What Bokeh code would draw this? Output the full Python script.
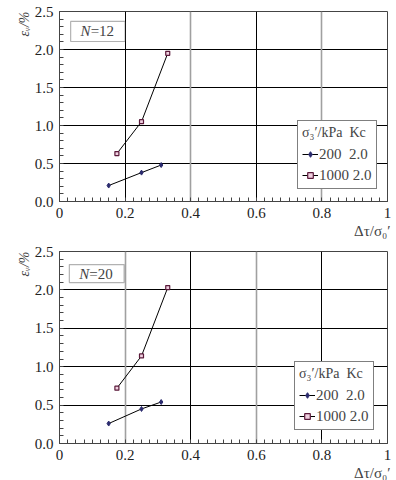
from bokeh.plotting import figure
from bokeh.models import (FixedTicker, NumeralTickFormatter, Grid, Label, BoxAnnotation,
                          Legend, LegendItem, Title)
from bokeh.layouts import column
from bokeh.embed import file_html
from bokeh.resources import INLINE

# ---- data ----
x_200 = [0.15, 0.25, 0.31]
x_1000 = [0.175, 0.25, 0.33]
n12_200 = [0.21, 0.38, 0.48]
n12_1000 = [0.63, 1.05, 1.95]
n20_200 = [0.26, 0.45, 0.54]
n20_1000 = [0.72, 1.14, 2.03]
x_ticks = [0, 0.2, 0.4, 0.6, 0.8, 1.0]
y_ticks = [0, 0.5, 1.0, 1.5, 2.0, 2.5]
panel_titles = ["12", "20"]
legend_labels = ["200  2.0", "1000 2.0"]
legend_title = "σ₃′/kPa  Kc"

FONT = "Liberation Serif"
GRAY = "#a0a0a0"


def make_panel(height, b_top, b_bottom, n_label, y200, y1000, black_x, gray_x, leg_loc, nbox):
    p = figure(width=396, height=height, x_range=(0, 1), y_range=(0, 2.5),
               output_backend="svg", toolbar_location=None,
               min_border_left=59, min_border_right=9,
               min_border_top=b_top, min_border_bottom=b_bottom)
    p.outline_line_color = "#444444"
    for ax in (p.xaxis[0], p.yaxis[0]):
        ax.axis_line_color = "#444444"
        ax.major_tick_in = 0
        ax.major_tick_out = 0
        ax.minor_tick_in = 4
        ax.minor_tick_out = 0
        ax.minor_tick_line_color = "#444444"
        ax.major_label_text_font = FONT
        ax.major_label_text_font_size = "15px"
        ax.major_label_text_color = "#222222"
    p.xaxis.ticker = FixedTicker(ticks=x_ticks, minor_ticks=[i * 0.025 for i in range(41)])
    p.yaxis.ticker = FixedTicker(ticks=y_ticks, minor_ticks=[i * 0.1 for i in range(26)])
    p.xaxis.major_label_overrides = {0: "0", 1: "1"}
    p.yaxis.formatter = NumeralTickFormatter(format="0.0")
    p.xaxis.major_label_standoff = 6
    p.yaxis.major_label_standoff = 6

    p.xgrid.visible = False
    p.ygrid.ticker = FixedTicker(ticks=[0.5, 1.0, 1.5, 2.0])
    p.ygrid.grid_line_color = "black"
    p.add_layout(Grid(dimension=0, ticker=FixedTicker(ticks=black_x),
                      grid_line_color="black"))
    p.add_layout(Grid(dimension=0, ticker=FixedTicker(ticks=gray_x),
                      grid_line_color=GRAY, grid_line_width=1.6))

    l1 = p.line(x_200, y200, line_color="black", line_width=1)
    m1 = p.scatter(x_200, y200, marker="diamond", size=5, fill_color="#2b2b6e",
                   line_color="#2b2b6e")
    l2 = p.line(x_1000, y1000, line_color="black", line_width=1)
    m2 = p.scatter(x_1000, y1000, marker="square", size=4, fill_color="#f0d0e0",
                   line_color="#5a1a3a", line_width=1.2)

    leg = Legend(items=[LegendItem(label=legend_labels[0], renderers=[l1, m1]),
                        LegendItem(label=legend_labels[1], renderers=[l2, m2])],
                 location=leg_loc, title=legend_title,
                 title_text_font=FONT, title_text_font_size="14px",
                 title_text_font_style="normal", title_standoff=4,
                 label_text_font=FONT, label_text_font_size="15px",
                 glyph_width=16, glyph_height=14, label_height=18, spacing=3,
                 padding=4, margin=0, label_standoff=1,
                 border_line_color="black", border_line_width=1.5,
                 background_fill_color="white", background_fill_alpha=1.0)
    p.add_layout(leg)

    # N box
    left, right, top, bottom = nbox
    mid = (top + bottom) / 2
    p.add_layout(BoxAnnotation(left=left, right=right, top=top, bottom=bottom,
                               fill_color="white", fill_alpha=1.0,
                               line_color="black", line_width=1.2))
    p.add_layout(Label(x=left + 0.03, y=mid, text="N", text_font=FONT,
                       text_font_style="italic",
                       text_font_size="15px", text_baseline="middle"))
    p.add_layout(Label(x=left + 0.061, y=mid, text="=" + n_label, text_font=FONT,
                       text_font_size="15px", text_baseline="middle"))

    # axis titles
    p.add_layout(Title(text="εᵥ/%", align="right", text_font=FONT,
                       text_font_style="italic", text_font_size="14px",
                       standoff=0, offset=0), "left")
    p.add_layout(Title(text="Δτ/σ₀′", align="right", text_font=FONT,
                       text_font_style="normal", text_font_size="15px",
                       standoff=0, offset=-3), "below")
    return p


p1 = make_panel(240, 11, 39, panel_titles[0], n12_200, n12_1000,
                [0.2, 0.6], [0.4, 0.8], (238, 12), (0.034, 0.2, 2.37, 2.105))
p2 = make_panel(240, 11, 37, panel_titles[1], n20_200, n20_1000,
                [0.4, 0.8], [0.2, 0.6], (235, 13), (0.03, 0.197, 2.33, 2.096))

layout = column(p1, p2, spacing=0)
open("out.html", "w").write(file_html(layout, INLINE))
